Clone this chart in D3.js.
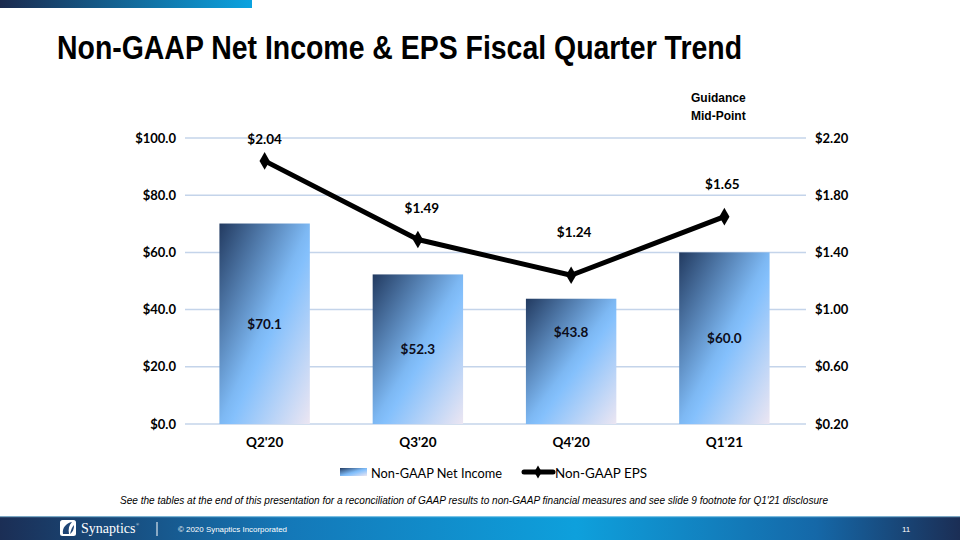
<!DOCTYPE html>
<html><head><meta charset="utf-8">
<script src="https://cdn.jsdelivr.net/npm/d3@7/dist/d3.min.js"></script>
<style>body{margin:0;background:#fff}svg{display:block}</style>
</head><body>
<svg id="c" width="960" height="540"></svg>
<script>
const categories = ["Q2'20", "Q3'20", "Q4'20", "Q1'21"];
const netIncome = [70.1, 52.3, 43.8, 60.0];
const eps = [2.04, 1.49, 1.24, 1.65];
const leftTicks = [0, 20, 40, 60, 80, 100];
const rightTicks = [0.20, 0.60, 1.00, 1.40, 1.80, 2.20];
const title = "Non-GAAP Net Income & EPS Fiscal Quarter Trend";
const footnote = "See the tables at the end of this presentation for a reconciliation of GAAP results to non-GAAP financial measures and see slide 9 footnote for Q1'21 disclosure";

const svg = d3.select("#c");
const defs = svg.append("defs");
const tg = defs.append("linearGradient").attr("id","topbar");
tg.append("stop").attr("offset","0").attr("stop-color","#1b2a4e");
tg.append("stop").attr("offset","1").attr("stop-color","#0ba3e0");
const fg = defs.append("linearGradient").attr("id","footer");
[["0","#1b2e55"],["0.3","#1478b8"],["0.6","#0ea0dc"],["0.85","#1568a8"],["1","#1b2e55"]].forEach(s=>fg.append("stop").attr("offset",s[0]).attr("stop-color",s[1]));
const bg = defs.append("linearGradient").attr("id","bar").attr("x1","0").attr("y1","0").attr("x2","1").attr("y2","1");
[["0","#223a60"],["0.5","#7db8f3"],["0.56","#84c0fc"],["1","#ece6f2"]].forEach(s=>bg.append("stop").attr("offset",s[0]).attr("stop-color",s[1]));

// top bar
svg.append("rect").attr("x",0).attr("y",0).attr("width",252).attr("height",8).attr("fill","url(#topbar)");
// title
svg.append("text").attr("x",57).attr("y",59).attr("font-family","'Liberation Sans',Arial,sans-serif")
  .attr("font-weight","bold").attr("font-size",33).attr("fill","#000")
  .attr("textLength",685).attr("lengthAdjust","spacingAndGlyphs").text(title);

const x = d3.scaleBand().domain(categories).range([188, 801]).paddingInner(0.41).paddingOuter(0.205);
const yL = d3.scaleLinear().domain([0,100]).range([424,138]);
const yR = d3.scaleLinear().domain([0.2,2.2]).range([424,138]);

const font = "Lato, 'Open Sans', sans-serif";
// gridlines
svg.append("g").selectAll("line").data(leftTicks).join("line")
  .attr("x1",185).attr("x2",806).attr("y1",d=>yL(d)).attr("y2",d=>yL(d))
  .attr("stroke","#c4d4ea").attr("stroke-width",1.5);

// left axis
const axL = svg.append("g").attr("transform","translate(176,0)")
  .call(d3.axisLeft(yL).tickValues(leftTicks).tickFormat(d=>"$"+d.toFixed(1)).tickSize(0).tickPadding(0));
axL.select(".domain").remove();
axL.selectAll("text").attr("font-family",font).attr("font-weight","bold").attr("font-size",13).attr("fill","#000");
// right axis
const axR = svg.append("g").attr("transform","translate(815,0)")
  .call(d3.axisRight(yR).tickValues(rightTicks).tickFormat(d=>"$"+d.toFixed(2)).tickSize(0).tickPadding(0));
axR.select(".domain").remove();
axR.selectAll("text").attr("font-family",font).attr("font-weight","bold").attr("font-size",13).attr("fill","#000");
// bottom axis
const axB = svg.append("g").attr("transform","translate(0,433)")
  .call(d3.axisBottom(x).tickSize(0).tickPadding(0));
axB.select(".domain").remove();
axB.selectAll("text").attr("font-family",font).attr("font-weight","bold").attr("font-size",13.5).attr("fill","#000").attr("dy","1em");

// bars
svg.append("g").selectAll("rect").data(netIncome).join("rect")
  .attr("x",(d,i)=>x(categories[i])).attr("width",x.bandwidth())
  .attr("y",d=>yL(d)).attr("height",d=>yL(0)-yL(d))
  .attr("fill","url(#bar)");
const barLabelShift = [0, 0, -29, 0];
svg.append("g").selectAll("text").data(netIncome).join("text")
  .attr("x",(d,i)=>x(categories[i])+x.bandwidth()/2)
  .attr("y",(d,i)=>(yL(d)+yL(0))/2+barLabelShift[i]+5)
  .attr("text-anchor","middle").attr("font-family",font).attr("font-weight","bold").attr("font-size",13.5).attr("fill","#0d0d1a")
  .text(d=>"$"+d.toFixed(1));

// EPS line
const cx = i => x(categories[i])+x.bandwidth()/2;
const line = d3.line().x((d,i)=>cx(i)).y(d=>yR(d));
svg.append("path").datum(eps).attr("d",line).attr("fill","none").attr("stroke","#000").attr("stroke-width",5).attr("stroke-linejoin","round");
const diamond = d3.symbol().type(d3.symbolDiamond).size(90);
svg.append("g").selectAll("path").data(eps).join("path")
  .attr("transform",(d,i)=>`translate(${cx(i)},${yR(d)})`).attr("d",diamond).attr("fill","#000");
const epsLabelDy = [-17, -27, -38, -28];
const epsLabelDx = [0, 4, 3, -2];
svg.append("g").selectAll("text").data(eps).join("text")
  .attr("x",(d,i)=>cx(i)+epsLabelDx[i]).attr("y",(d,i)=>yR(d)+epsLabelDy[i])
  .attr("text-anchor","middle").attr("font-family",font).attr("font-weight","bold").attr("font-size",13.5).attr("fill","#000")
  .text(d=>"$"+d.toFixed(2));

// Guidance label
const gl = svg.append("text").attr("font-family","'Liberation Sans',Arial,sans-serif").attr("font-weight","bold").attr("font-size",12).attr("fill","#000");
gl.append("tspan").attr("x",691).attr("y",102).text("Guidance");
gl.append("tspan").attr("x",691).attr("y",120).text("Mid-Point");

// legend
const lg = svg.append("g");
lg.append("rect").attr("x",340).attr("y",468).attr("width",27).attr("height",8).attr("fill","url(#bar)");
lg.append("text").attr("x",371).attr("y",478).attr("font-family",font).attr("font-size",14).attr("fill","#000")
  .attr("textLength",131).attr("lengthAdjust","spacingAndGlyphs").text("Non-GAAP Net Income");
lg.append("line").attr("x1",524).attr("x2",553).attr("y1",472).attr("y2",472).attr("stroke","#000").attr("stroke-width",5).attr("stroke-linecap","round");
lg.append("path").attr("transform","translate(538,472)").attr("d",d3.symbol().type(d3.symbolDiamond).size(50)).attr("fill","#000");
lg.append("text").attr("x",555).attr("y",478).attr("font-family",font).attr("font-size",14).attr("fill","#000")
  .attr("textLength",92).attr("lengthAdjust","spacingAndGlyphs").text("Non-GAAP EPS");

// footnote
svg.append("text").attr("x",120).attr("y",504).attr("font-family","'Liberation Sans',Arial,sans-serif")
  .attr("font-style","italic").attr("font-size",11.5).attr("fill","#000")
  .attr("textLength",708).attr("lengthAdjust","spacingAndGlyphs").text(footnote);

// footer
svg.append("rect").attr("x",0).attr("y",516).attr("width",960).attr("height",24).attr("fill","url(#footer)");
svg.append("rect").attr("x",0).attr("y",516).attr("width",960).attr("height",1.2).attr("fill","#a8dcf2").attr("opacity",0.7);
// logo mark
const logo = svg.append("g").attr("transform","translate(60,520)");
logo.append("rect").attr("x",0).attr("y",0).attr("width",16).attr("height",16).attr("rx",2.5).attr("fill","#fff");
logo.append("path").attr("d","M3,14 C2,8 6,3 12,2 C9,5 8,9 9,14 Z").attr("fill","#1f4575");
logo.append("path").attr("d","M10,14 C11,10 12,7 14,5 C14,9 13,12 10,14 Z").attr("fill","#1f4575");
const brand = svg.append("text").attr("x",81).attr("y",533).attr("font-family","'Liberation Serif','DejaVu Serif',serif").attr("font-size",14).attr("fill","#fff");
brand.append("tspan").text("Synaptics");
brand.append("tspan").attr("font-size",4).attr("dy",-7).attr("dx",0.5).text("®");
svg.append("line").attr("x1",157).attr("x2",157).attr("y1",522).attr("y2",536).attr("stroke","#fff").attr("stroke-width",1);
svg.append("text").attr("x",178).attr("y",532).attr("font-family","'Liberation Sans',Arial,sans-serif").attr("font-size",8).attr("fill","#fff")
  .attr("textLength",109).attr("lengthAdjust","spacingAndGlyphs").text("© 2020 Synaptics Incorporated");
svg.append("text").attr("x",902).attr("y",532).attr("font-family","'Liberation Sans',Arial,sans-serif").attr("font-size",8).attr("fill","#fff").text("11");
</script>
</body></html>
